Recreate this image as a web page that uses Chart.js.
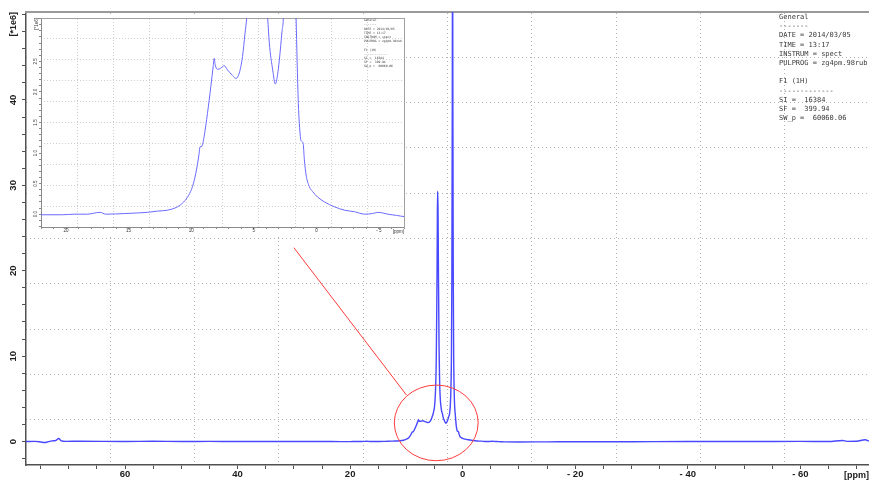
<!DOCTYPE html>
<html>
<head>
<meta charset="utf-8">
<title>1H spectrum</title>
<script src="https://cdn.jsdelivr.net/npm/chart.js@4.4.1/dist/chart.umd.min.js"></script>
<style>
  html, body { margin: 0; padding: 0; background: #fff; }
  #wrap { position: relative; width: 869px; height: 480px; overflow: hidden; background: #fff; }
  #main { position: absolute; left: 0; top: 0; }
  #inset { position: absolute; left: 30px; top: 14px; background: #fff; }
  .info { position: absolute; font-family: 'DejaVu Sans Mono', 'Liberation Mono', monospace; color: #3a3a3a; white-space: pre; }
  #infoMain { left: 779px; top: 13px; font-size: 7px; line-height: 9.2px; }
  #infoInset { left: 364px; top: 18px; font-size: 6px; line-height: 8.4px; transform: scale(0.5); transform-origin: 0 0; }
</style>
</head>
<body>
<div id="wrap">
  <canvas id="main" width="869" height="480"></canvas>
  <canvas id="inset" width="376" height="223"></canvas>
  <div id="infoMain" class="info"></div>
  <div id="infoInset" class="info"></div>
</div>
<script>
// Chemical shift (ppm) and intensity (x 1e6) of the 1H spectrum, high to low ppm
const shiftPpm = [
  77.6, 76.0, 75.0, 74.3, 73.6, 73.0, 72.3, 71.8, 71.3, 70.5, 68.0, 60.0, 55.0, 50.0, 45.0,
  40.0, 35.0, 30.0, 25.0, 21.7, 20.0, 19.0, 18.0, 17.0, 16.5, 15.0, 14.0, 13.2, 12.4, 11.6,
  10.8, 10.3, 9.9, 9.6, 9.33, 9.07, 9.0, 8.85, 8.67, 8.4, 8.13, 7.95, 7.87, 7.78, 7.6,
  7.33, 7.07, 6.8, 6.4, 6.13, 5.86, 5.6, 5.4, 5.27, 5.1, 5.0, 4.9, 4.8, 4.7, 4.6,
  4.52, 4.47, 4.42, 4.38, 4.3, 4.2, 4.1, 4.0, 3.9, 3.75, 3.59, 3.46, 3.19, 2.98, 2.8,
  2.66, 2.44, 2.34, 2.2, 2.1, 2.0, 1.92, 1.85, 1.8, 1.75, 1.68, 1.6, 1.5, 1.4, 1.32,
  1.24, 1.14, 0.98, 0.87, 0.76, 0.66, 0.52, 0.26, 0.0, -0.4, -0.95, -1.75, -2.55, -3.35, -4.15,
  -4.8, -5.2, -5.6, -6.0, -6.7, -7.35, -10.0, -15.0, -20.0, -30.0, -40.0, -50.0, -60.0, -65.0, -67.5,
  -68.3, -70.0, -71.5, -72.2
];
const intensity = [
  0.00, 0.02, -0.05, -0.12, -0.02, 0.08, 0.12, 0.35, 0.08, 0.02, 0.03, 0.01, 0.03, 0.00, 0.02,
  0.00, 0.01, 0.00, 0.01, -0.01, -0.01, 0.00, 0.00, 0.03, 0.00, 0.01, 0.02, 0.03, 0.05, 0.065,
  0.12, 0.20, 0.31, 0.45, 0.67, 0.99, 1.10, 1.11, 1.27, 1.65, 2.09, 2.41, 2.55, 2.44, 2.37,
  2.39, 2.43, 2.36, 2.27, 2.22, 2.31, 2.58, 2.96, 3.20, 3.70, 4.10, 5.00, 6.50, 9.50, 16.0,
  24.0, 29.3, 28.5, 27.0, 19.0, 11.0, 7.0, 5.2, 4.3, 3.6, 3.20, 2.80, 2.36, 2.13, 2.28,
  2.52, 3.00, 3.20, 4.20, 6.0, 10.0, 20.0, 40.0, 60.0, 42.0, 20.0, 10.0, 5.5, 3.8, 3.20,
  2.52, 1.81, 1.27, 1.19, 1.16, 0.89, 0.64, 0.45, 0.37, 0.28, 0.20, 0.12, 0.065, 0.04, 0.00,
  0.01, 0.03, 0.02, 0.00, -0.02, -0.04, -0.05, -0.04, -0.03, -0.02, 0.00, 0.00, 0.02, 0.00, 0.12,
  0.02, 0.03, 0.20, 0.05
];

// Acquisition parameters shown in the title boxes
const infoLines = [
  'General', '-------', 'DATE = 2014/03/05', 'TIME = 13:17', 'INSTRUM = spect',
  'PULPROG = zg4pm.98rub', '', 'F1 (1H)', '-------------', 'SI =  16384', 'SF =  399.94',
  'SW_p =  60060.06'
];

// Axis limits of the full view and of the zoomed view
const fullPpmRange = [-72.2, 77.6];
const fullIntensityRange = [-2.75, 50.3];
const zoomPpmRange = [-7.3, 21.7];
const zoomIntensityRange = [-0.21, 3.21];
const ppmUnit = '[ppm]';

// Callout linking the full view to the zoomed region (data units)
const calloutLine = [{ x: 30, y: 22.7 }, { x: 10, y: 5.45 }];
const calloutRing = { x: 4.7, y: 2.18, rx: 7.45, ry: 4.43 };

document.getElementById('infoMain').textContent = infoLines.join('\n');
document.getElementById('infoInset').textContent = infoLines.join('\n');

const points = shiftPpm.map((x, i) => ({ x, y: intensity[i] }));
const FONT = "'Liberation Sans', Arial, sans-serif";

function fmtPpm(v) {
  const r = Math.round(v);
  return r < 0 ? '- ' + (-r) : String(r);
}

// dotted grid dividing the plot into ten parts, hiding the two edge lines
function tenthGrid(color) {
  return {
    drawTicks: false,
    lineWidth: 1,
    color: ctx => (ctx.tick && (ctx.tick.value <= 0 || ctx.tick.value >= 10)) ? 'rgba(0,0,0,0)' : color
  };
}

// unit label at the right end of the x axis, level with the tick labels
function unitLabel(font, color, dy) {
  return {
    id: 'unitLabel',
    afterDraw(chart) {
      const s = chart.scales.x;
      const ctx = chart.ctx;
      ctx.save();
      ctx.font = font;
      ctx.fillStyle = color;
      ctx.textAlign = 'right';
      ctx.textBaseline = 'middle';
      ctx.fillText(ppmUnit, s.right, s.top + dy);
      ctx.restore();
    }
  };
}

const calloutPlugin = {
  id: 'callout',
  afterDatasetsDraw(chart) {
    const { ctx, scales: { x, y } } = chart;
    ctx.save();
    ctx.strokeStyle = '#ff3b3b';
    ctx.lineWidth = 1;
    ctx.beginPath();
    ctx.moveTo(x.getPixelForValue(calloutLine[0].x), y.getPixelForValue(calloutLine[0].y));
    ctx.lineTo(x.getPixelForValue(calloutLine[1].x), y.getPixelForValue(calloutLine[1].y));
    ctx.stroke();
    const cx = x.getPixelForValue(calloutRing.x);
    const cy = y.getPixelForValue(calloutRing.y);
    const rx = Math.abs(x.getPixelForValue(calloutRing.x + calloutRing.rx) - cx);
    const ry = Math.abs(y.getPixelForValue(calloutRing.y + calloutRing.ry) - cy);
    ctx.beginPath();
    ctx.ellipse(cx, cy, rx, ry, 0, 0, Math.PI * 2);
    ctx.stroke();
    ctx.restore();
  }
};

// Full spectrum
new Chart(document.getElementById('main'), {
  type: 'line',
  data: {
    datasets: [{
      data: points,
      borderColor: '#4848ff',
      borderWidth: 1.4,
      pointRadius: 0,
      fill: false,
      cubicInterpolationMode: 'monotone'
    }]
  },
  options: {
    responsive: false,
    animation: false,
    devicePixelRatio: 1,
    layout: { padding: { top: 12, left: 0, right: 0, bottom: 0 } },
    plugins: { legend: { display: false }, tooltip: { enabled: false } },
    scales: {
      x: {
        type: 'linear', position: 'bottom', reverse: true,
        min: fullPpmRange[0], max: fullPpmRange[1],
        afterFit: s => { s.height = 15; },
        grid: { drawOnChartArea: false, drawTicks: true, tickLength: 4, tickColor: '#505050' },
        border: { display: true, color: '#505050', width: 1.5 },
        ticks: {
          stepSize: 5, includeBounds: false, autoSkip: false, maxRotation: 0, minRotation: 0,
          padding: 1, color: '#202020', font: { family: FONT, size: 9.5, weight: 'bold', lineHeight: 1 },
          callback: v => (Math.round(v) % 20 === 0 ? fmtPpm(v) : '')
        }
      },
      y: {
        type: 'linear', position: 'left',
        min: fullIntensityRange[0], max: fullIntensityRange[1],
        afterFit: s => { s.width = 26; },
        grid: { drawOnChartArea: false, drawTicks: true, tickLength: 4, tickColor: '#505050' },
        border: { display: true, color: '#505050', width: 1.5 },
        ticks: {
          stepSize: 2, includeBounds: false, autoSkip: false, minRotation: 90, maxRotation: 90,
          crossAlign: 'center', padding: 3, color: '#202020',
          font: { family: FONT, size: 9.5, weight: 'bold', lineHeight: 1 },
          callback: v => { const r = Math.round(v); return (r % 10 === 0 && r < 50) ? String(r) : ''; }
        },
        title: {
          display: true, text: '[*1e6]', align: 'end', color: '#202020',
          font: { family: FONT, size: 9, weight: 'bold', lineHeight: 1 }, padding: { top: 9.5, bottom: 0 }
        }
      },
      x2: {
        type: 'linear', position: 'top', min: 0, max: 10,
        afterFit: s => { s.height = 0; },
        grid: tenthGrid('#b2b2b2'),
        border: { display: true, color: '#9a9a9a', width: 2, dash: [1, 3] },
        ticks: { display: false, stepSize: 1 }
      },
      y2: {
        type: 'linear', position: 'right', min: 0, max: 10,
        afterFit: s => { s.width = 0; },
        grid: tenthGrid('#b2b2b2'),
        border: { display: false, dash: [1, 3] },
        ticks: { display: false, stepSize: 1 }
      }
    }
  },
  plugins: [calloutPlugin, unitLabel("bold 9px 'Liberation Sans', Arial, sans-serif", '#202020', 10.5)]
});

// Zoom on the region around 0-10 ppm
new Chart(document.getElementById('inset'), {
  type: 'line',
  data: {
    datasets: [{
      data: points,
      borderColor: '#6a6aff',
      borderWidth: 1,
      pointRadius: 0,
      fill: false,
      cubicInterpolationMode: 'monotone'
    }]
  },
  options: {
    responsive: false,
    animation: false,
    devicePixelRatio: 1,
    layout: { padding: { top: 4, left: 0, right: 2, bottom: 0 } },
    plugins: { legend: { display: false }, tooltip: { enabled: false } },
    scales: {
      x: {
        type: 'linear', position: 'bottom', reverse: true,
        min: zoomPpmRange[0], max: zoomPpmRange[1],
        afterFit: s => { s.height = 10; },
        grid: { drawOnChartArea: false, drawTicks: true, tickLength: 2, tickColor: '#8a8a8a' },
        border: { display: true, color: '#8a8a8a', width: 1 },
        ticks: {
          stepSize: 1, includeBounds: false, autoSkip: false, maxRotation: 0, minRotation: 0,
          padding: 0, color: '#333', font: { family: FONT, size: 4.5, lineHeight: 1 },
          callback: v => (Math.round(v) % 5 === 0 ? fmtPpm(v) : '')
        }
      },
      y: {
        type: 'linear', position: 'left',
        min: zoomIntensityRange[0], max: zoomIntensityRange[1],
        afterFit: s => { s.width = 11; },
        grid: { drawOnChartArea: false, drawTicks: true, tickLength: 2, tickColor: '#8a8a8a' },
        border: { display: true, color: '#8a8a8a', width: 1 },
        ticks: {
          stepSize: 0.1, includeBounds: false, autoSkip: false, minRotation: 90, maxRotation: 90,
          crossAlign: 'center', padding: 0, color: '#333', font: { family: FONT, size: 4.5, lineHeight: 1 },
          callback: v => { const r = Math.round(v * 10); return (r % 5 === 0 && r >= 0 && r < 30) ? (r / 10).toFixed(1) : ''; }
        },
        title: {
          display: true, text: '[*1e6]', align: 'end', color: '#333',
          font: { family: FONT, size: 4.5, lineHeight: 1 }, padding: { top: 4.75, bottom: 0 }
        }
      },
      x2: {
        type: 'linear', position: 'top', min: 0, max: 10,
        afterFit: s => { s.height = 0; },
        grid: tenthGrid('#cfcfcf'),
        border: { display: true, color: '#a0a0a0', width: 1, dash: [1, 2] },
        ticks: { display: false, stepSize: 1 }
      },
      y2: {
        type: 'linear', position: 'right', min: 0, max: 10,
        afterFit: s => { s.width = 0; },
        grid: tenthGrid('#cfcfcf'),
        border: { display: true, color: '#a0a0a0', width: 1, dash: [1, 2] },
        ticks: { display: false, stepSize: 1 }
      }
    }
  },
  plugins: [unitLabel("4.5px 'Liberation Sans', Arial, sans-serif", '#333', 4.5)]
});
</script>
</body>
</html>
